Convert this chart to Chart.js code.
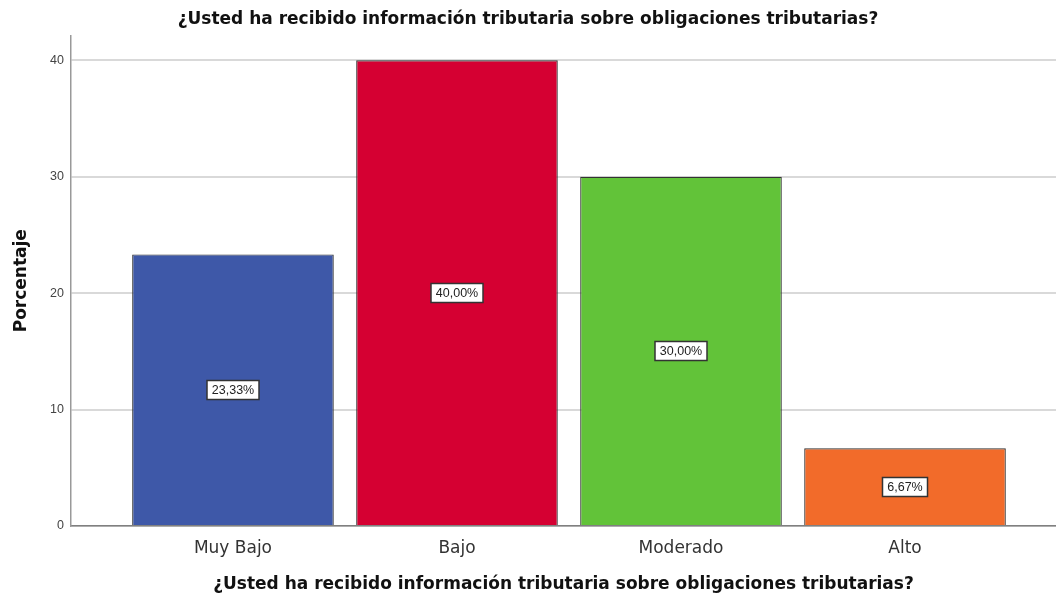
<!DOCTYPE html>
<html>
<head>
<meta charset="utf-8">
<script src="https://cdn.jsdelivr.net/npm/chart.js@4/dist/chart.umd.min.js"></script>
<style>
  html, body { margin: 0; padding: 0; background: #fff; }
  #wrap { width: 1056px; height: 600px; }
</style>
</head>
<body>
<div id="wrap"><canvas id="barChart"></canvas></div>
<script>
// data
const categories = ['Muy Bajo', 'Bajo', 'Moderado', 'Alto'];
const percentValues = [23.33, 40.00, 30.00, 6.67];
const barColors = ['#3E58A8', '#D50032', '#62C339', '#F26B2A'];
const yTicks = [0, 10, 20, 30, 40];
const chartTitle = '¿Usted ha recibido información tributaria sobre obligaciones tributarias?';
const yTitle = 'Porcentaje';

const fontFamily = '"DejaVu Sans", Verdana, sans-serif';
const labelFont = '"Liberation Sans", Arial, sans-serif';

function pctLabel(v) {
    return v.toFixed(2).replace('.', ',') + '%';
}

// white boxed value labels in the middle of every bar
const boxLabels = {
    id: 'boxLabels',
    afterDatasetsDraw(chart) {
        const ctx = chart.ctx;
        const meta = chart.getDatasetMeta(0);
        ctx.save();
        ctx.font = '12.5px ' + labelFont;
        ctx.textAlign = 'center';
        ctx.textBaseline = 'middle';
        meta.data.forEach((bar, i) => {
            const text = pctLabel(percentValues[i]);
            const cx = Math.round(bar.x);
            const cy = Math.round((bar.y + bar.base) / 2);
            const w = Math.round(ctx.measureText(text).width) + 10;
            const h = 19;
            ctx.fillStyle = '#ffffff';
            ctx.fillRect(cx - w / 2, cy - h / 2, w, h);
            ctx.lineWidth = 1.5;
            ctx.strokeStyle = '#333333';
            ctx.strokeRect(cx - w / 2, cy - h / 2, w, h);
            ctx.fillStyle = '#222222';
            ctx.fillText(text, cx, cy + 1);
        });
        ctx.restore();
    }
};

const ctx = document.getElementById('barChart').getContext('2d');
const myChart = new Chart(ctx, {
    type: 'bar',
    data: {
        datasets: [{
            label: yTitle,
            data: percentValues.map((v, i) => ({ x: i + 1, y: v })),
            backgroundColor: barColors,
            borderColor: '#333333',
            borderWidth: 1.2,
            barPercentage: 0.9,
            categoryPercentage: 1.0
        }]
    },
    options: {
        responsive: true,
        maintainAspectRatio: false,
        animation: false,
        layout: { padding: 0 },
        plugins: {
            legend: { display: false },
            tooltip: { enabled: false },
            title: {
                display: true,
                text: chartTitle,
                color: '#111',
                font: { family: fontFamily, size: 17, weight: 'bold' },
                padding: { top: 9, bottom: 6 }
            }
        },
        scales: {
            x: {
                type: 'linear',
                min: 0.277,
                max: 4.674,
                offset: false,
                grid: { display: false, drawTicks: false, offset: false },
                border: { display: true, color: '#808080', width: 1.5 },
                afterBuildTicks: (scale) => {
                    scale.ticks = categories.map((c, i) => ({ value: i + 1 }));
                },
                afterFit: (scale) => { scale.height = 74; },
                ticks: {
                    autoSkip: false,
                    maxRotation: 0,
                    padding: 12,
                    color: '#333',
                    font: { family: fontFamily, size: 17 },
                    callback: (v) => categories[v - 1]
                },
                title: {
                    display: true,
                    text: chartTitle,
                    color: '#111',
                    font: { family: fontFamily, size: 17, weight: 'bold' },
                    padding: { top: 0, bottom: 5 }
                }
            },
            y: {
                min: 0,
                max: 42.14,
                afterBuildTicks: (scale) => {
                    scale.ticks = yTicks.map(v => ({ value: v }));
                },
                afterFit: (scale) => { scale.width = 71; },
                grid: { color: '#D9D9D9', lineWidth: 2, drawTicks: false },
                border: { display: true, color: '#999999', width: 1.5 },
                ticks: {
                    padding: 7,
                    color: '#444',
                    font: { family: labelFont, size: 12.5 }
                },
                title: {
                    display: true,
                    text: yTitle,
                    color: '#111',
                    font: { family: fontFamily, size: 17, weight: 'bold' },
                    padding: { top: 11, bottom: 0 }
                }
            }
        }
    },
    plugins: [boxLabels]
});
</script>
</body>
</html>
